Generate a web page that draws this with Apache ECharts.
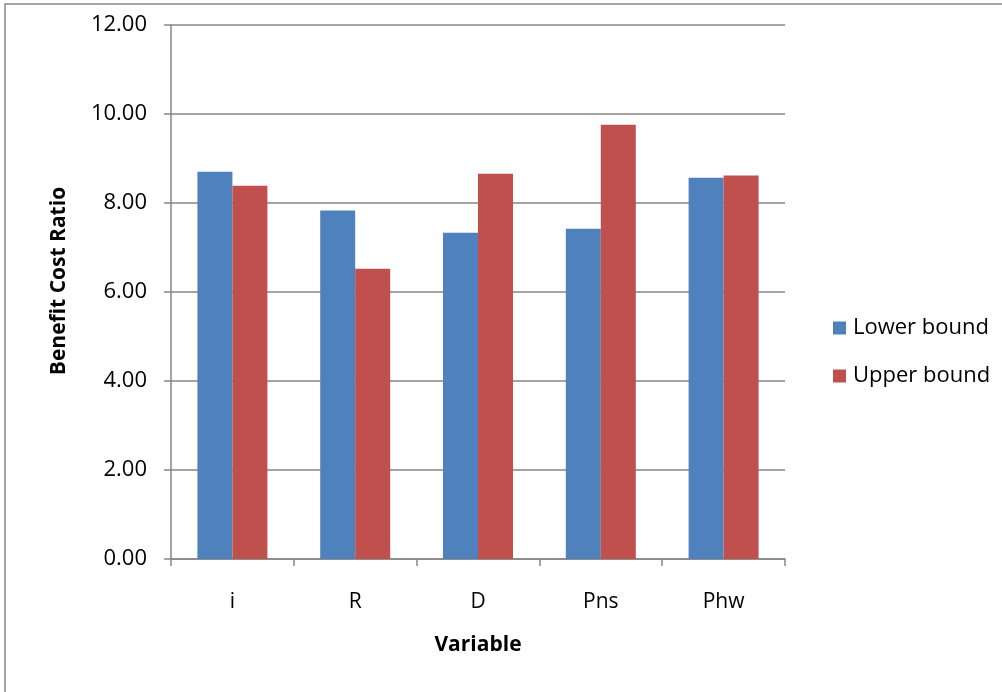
<!DOCTYPE html>
<html><head><meta charset="utf-8">
<script src="https://cdn.jsdelivr.net/npm/echarts@6/dist/echarts.min.js"></script>
<style>html,body{margin:0;padding:0;background:#fff}#c{width:1002px;height:692px}</style>
</head><body><div id="c"></div>
<script>
const categories = ['i', 'R', 'D', 'Pns', 'Phw'];
const lowerBound = [8.70, 7.83, 7.33, 7.42, 8.57];
const upperBound = [8.39, 6.52, 8.66, 9.76, 8.62];
const seriesNames = ['Lower bound', 'Upper bound'];
const yTicks = { min: 0, max: 12, interval: 2 };

const FONT = '"Open Sans", Lato, sans-serif';
const chart = echarts.init(document.getElementById('c'), null, { renderer: 'canvas' });
chart.setOption({
  animation: false,
  backgroundColor: '#fff',
  graphic: [{
    type: 'rect', shape: { x: 5, y: 4, width: 1200, height: 900 },
    style: { fill: 'none', stroke: '#868686', lineWidth: 1.5 }, silent: true
  }],
  grid: { left: 171, top: 25, right: 217, bottom: 133, containLabel: false },
  legend: {
    orient: 'vertical', left: 828, top: 312, itemWidth: 13, itemHeight: 13, itemGap: 26,
    icon: 'rect',
    textStyle: { fontFamily: FONT, fontSize: 22, color: '#000', padding: [0, 0, 0, 2] },
    data: seriesNames
  },
  xAxis: {
    type: 'category', data: categories,
    name: 'Variable', nameLocation: 'middle', nameGap: 76,
    nameTextStyle: { fontFamily: FONT, fontSize: 21, fontWeight: 'bold', color: '#000' },
    axisLine: { lineStyle: { color: '#868686', width: 1.5 } },
    axisTick: { show: true, length: 7, interval: 0, lineStyle: { color: '#868686', width: 1.5 } },
    axisLabel: { fontFamily: FONT, fontSize: 21, color: '#000', margin: 33 }
  },
  yAxis: {
    type: 'value', min: yTicks.min, max: yTicks.max, interval: yTicks.interval,
    name: 'Benefit Cost Ratio', nameLocation: 'middle', nameGap: 101,
    nameTextStyle: { fontFamily: FONT, fontSize: 21, fontWeight: 'bold', color: '#000',
      padding: [0, 0, 0, 22] },
    axisLine: { show: true, lineStyle: { color: '#868686', width: 1.5 } },
    axisTick: { show: true, length: 7, lineStyle: { color: '#868686', width: 1.5 } },
    splitLine: { lineStyle: { color: '#868686', width: 1.5 } },
    axisLabel: { fontFamily: FONT, fontSize: 22, color: '#000', margin: 24,
      formatter: v => v.toFixed(2) }
  },
  series: [
    { name: seriesNames[0], type: 'bar', data: lowerBound, barGap: '0%', barCategoryGap: '43%',
      itemStyle: { color: '#4F81BD' } },
    { name: seriesNames[1], type: 'bar', data: upperBound, barGap: '0%', barCategoryGap: '43%',
      itemStyle: { color: '#C0504D' } }
  ]
});
</script></body></html>
